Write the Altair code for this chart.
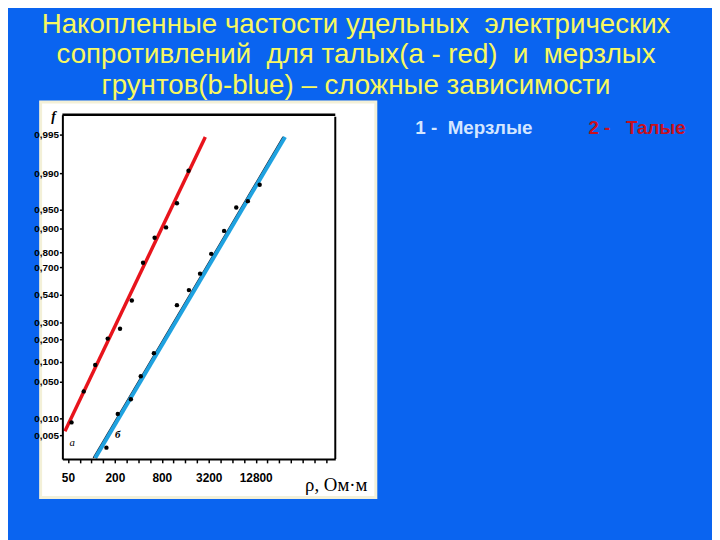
import altair as alt
import pandas as pd

# ---- data ----
red_rho = [55.7, 79.8, 112, 162, 233, 330, 460, 647, 907, 1250, 1760]
red_F = [0.0088, 0.0395, 0.0925, 0.204, 0.263, 0.491, 0.729, 0.861, 0.903, 0.957, 0.9903]
blue_rho = [156, 218, 321, 430, 633, 1250, 1780, 2475, 3442, 5030, 7205, 10135, 14380]
blue_F = [0.0029, 0.0149, 0.0309, 0.064, 0.139, 0.45, 0.567, 0.662, 0.789, 0.890, 0.9525, 0.9594, 0.9774]
red_line_rho = [45.8, 2890]
red_line_F = [0.0062, 0.9947]
blue_line_rho = [112, 30400]
blue_line_F = [0.00117, 0.9947]
blue_ink_rho = [106, 28700]
blue_ink_F = [0.00117, 0.9947]

y_ticks = [0.005, 0.01, 0.05, 0.1, 0.2, 0.3, 0.54, 0.7, 0.8, 0.9, 0.95, 0.99, 0.995]
x_labelled = [50, 200, 800, 3200, 12800]
x_ticks = [50, 71, 100, 141, 200, 283, 400, 566, 800, 1131, 1600, 2263, 3200, 4525,
           6400, 9051, 12800, 18102, 25600, 36204, 51200, 72408, 102400]

NB = "\u00a0"
title_lines = ["Накопленные частости удельных" + NB + " электрических",
               "сопротивлений" + NB + " для талых(а - red)" + NB + " и" + NB + " мерзлых",
               "грунтов(b-blue) – сложные зависимости"]
legend_1 = "1 -" + NB + " Мерзлые"
legend_2 = "2 -" + NB + NB + " Талые"

# probability-paper scale of the scanned figure (piecewise)
y_domain = [0.001] + y_ticks + [0.999]
y_range = [348, 324, 307, 270, 250, 227, 210, 182, 154, 139, 115, 96, 59, 20, 0]

W, H = 276, 348

xscale = alt.Scale(type="log", domain=[42.5, 134000], nice=False)
yscale = alt.Scale(type="linear", domain=y_domain, range=y_range, nice=False, zero=False)

xaxis = alt.Axis(values=x_ticks, grid=False, title=None, zindex=1,
                 domainColor="black", domainWidth=2, tickColor="black", tickSize=4,
                 tickWidth=1.5, labelPadding=10, labelFont="Liberation Sans",
                 labelFontWeight="bold", labelFontSize=12, labelColor="black",
                 labelExpr="indexof([50,200,800,3200,12800], datum.value) >= 0 ? format(datum.value, 'd') : ''")
yaxis = alt.Axis(values=y_ticks, grid=False, title=None, zindex=1,
                 domainColor="black", domainWidth=2, tickColor="black", tickSize=3,
                 tickWidth=1.5, labelPadding=1, labelFont="Liberation Sans",
                 labelFontWeight="bold", labelFontSize=10, labelColor="black",
                 labelExpr="replace(format(datum.value, '.3f'), '.', ',')")

one = pd.DataFrame({"a": [0]})

paper = alt.Chart(one).mark_rect(fill="white", stroke="#f3f0d8", strokeWidth=3).encode(
    x=alt.value(-22), x2=alt.value(317), y=alt.value(-13), y2=alt.value(387))

def line_layer(rho, F, color, width):
    df = pd.DataFrame({"rho": rho, "F": F})
    return alt.Chart(df).mark_line(color=color, strokeWidth=width).encode(
        x=alt.X("rho:Q", scale=xscale, axis=xaxis),
        y=alt.Y("F:Q", scale=yscale, axis=yaxis))

def point_layer(rho, F):
    df = pd.DataFrame({"rho": rho, "F": F})
    return alt.Chart(df).mark_circle(color="black", size=20, opacity=1).encode(
        x=alt.X("rho:Q", scale=xscale, axis=xaxis),
        y=alt.Y("F:Q", scale=yscale, axis=yaxis))

ink = line_layer(blue_ink_rho, blue_ink_F, "#1a1a2a", 1.5)
red = line_layer(red_line_rho, red_line_F, "#e8141c", 3.5)
blue = line_layer(blue_line_rho, blue_line_F, "#1fa2e0", 4)
pts_r = point_layer(red_rho, red_F)
pts_b = point_layer(blue_rho, blue_F)

top_border = alt.Chart(one).mark_rule(color="black", strokeWidth=2.5).encode(
    x=alt.value(0), x2=alt.value(W), y=alt.value(0))
right_border = alt.Chart(one).mark_rule(color="black", strokeWidth=2).encode(
    x=alt.value(W), y=alt.value(2), y2=alt.value(H))

def txt(s, x, y, **kw):
    return alt.Chart(one).mark_text(text=s, **kw).encode(x=alt.value(x), y=alt.value(y))

TS = 28
texts = [
    txt(title_lines[0], 297, -91, font="Liberation Sans", fontSize=TS, color="#f8f860", align="center", baseline="middle"),
    txt(title_lines[1], 297, -60, font="Liberation Sans", fontSize=TS, color="#f8f860", align="center", baseline="middle"),
    txt(title_lines[2], 297, -29, font="Liberation Sans", fontSize=TS, color="#f8f860", align="center", baseline="middle"),
    txt(legend_1, 357, 13, font="Liberation Sans", fontSize=19, fontWeight="bold", color="#d4e6ff", align="left", baseline="middle"),
    txt(legend_2, 532, 13, font="Liberation Sans", fontSize=19, fontWeight="bold", color="#c81020", align="left", baseline="middle"),
    txt("ρ, Ом·м", 277, 374, font="Liberation Serif", fontSize=19, color="black", align="center", baseline="middle"),
    txt("f", -9, 2, font="Liberation Serif", fontSize=14, fontStyle="italic", fontWeight="bold", color="black", align="center", baseline="middle"),
    txt("а", 10, 332, font="Liberation Serif", fontSize=11, fontStyle="italic", color="black", align="center", baseline="middle"),
    txt("б", 56, 324, font="Liberation Serif", fontSize=11, fontStyle="italic", fontWeight="bold", color="black", align="center", baseline="middle"),
]

chart = alt.layer(paper, ink, red, blue, pts_r, pts_b, top_border, right_border, *texts).properties(
    width=W, height=H,
    background="#0a64f0",
    autosize=alt.AutoSizeParams(type="none"),
    padding={"left": 55, "top": 105, "right": 381, "bottom": 79},
).configure_view(stroke=None)

chart.save("out.html", embed_options={"renderer": "svg", "actions": False})
